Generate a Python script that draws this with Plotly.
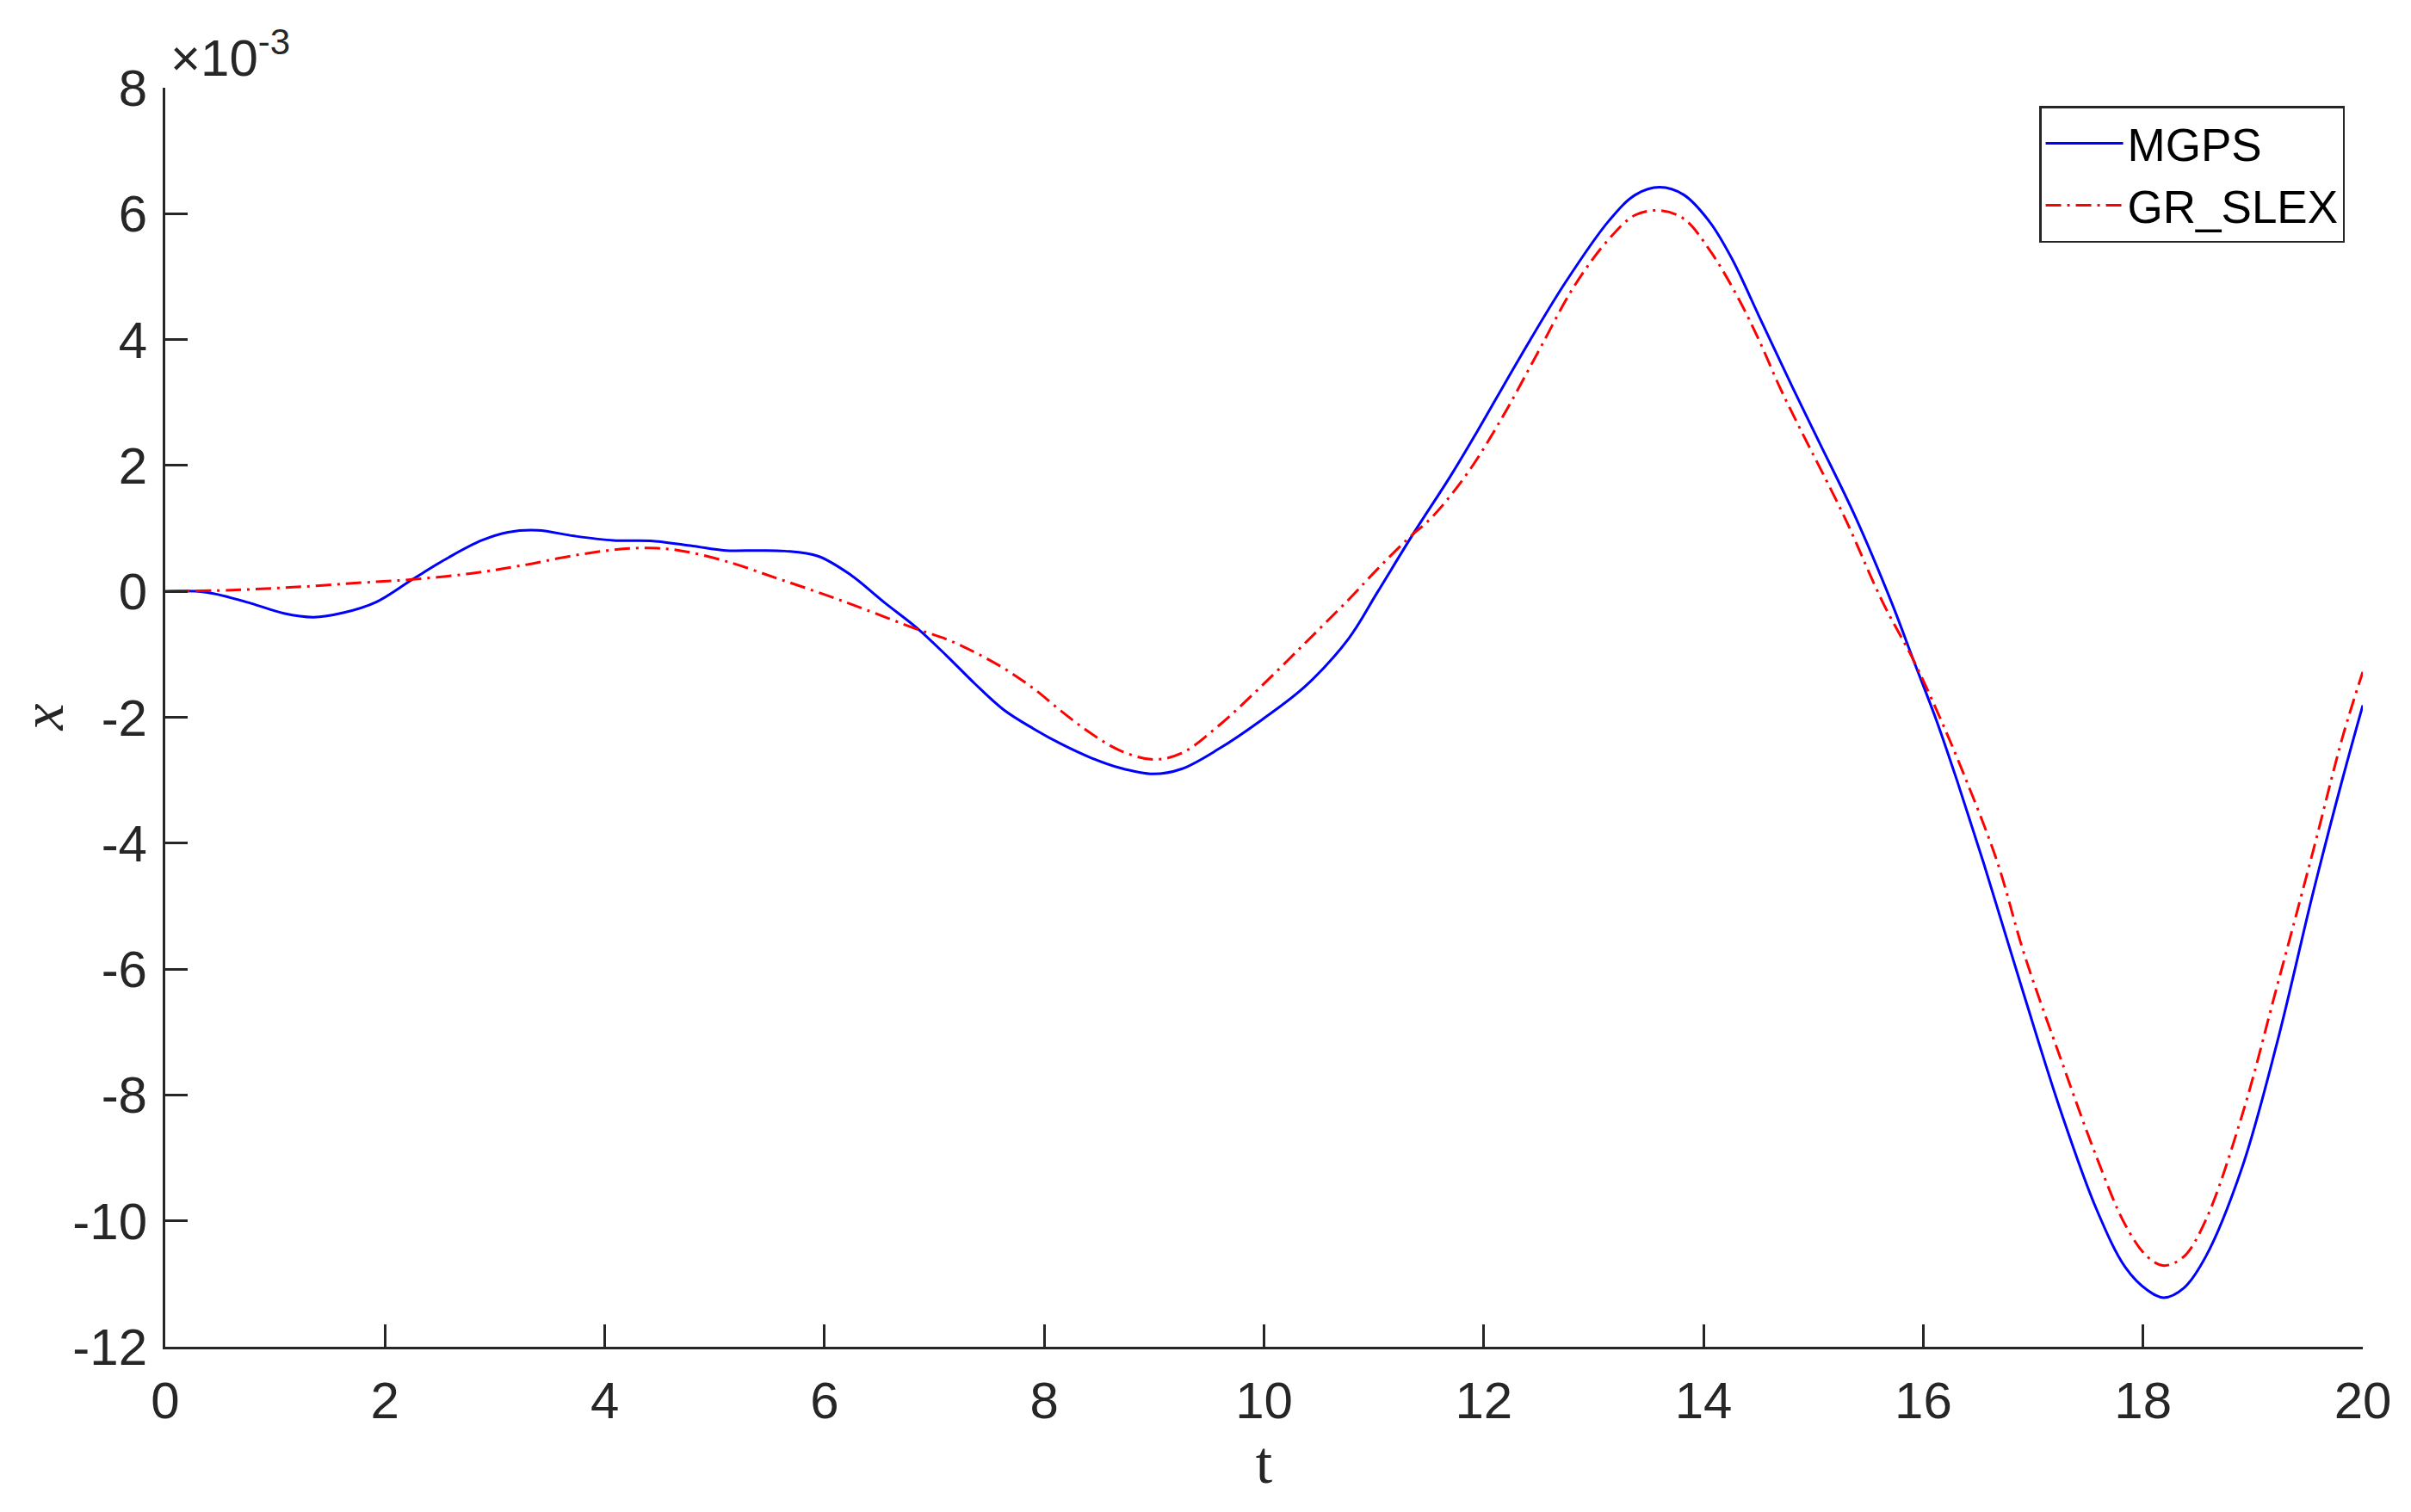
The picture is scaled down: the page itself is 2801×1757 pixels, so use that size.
import plotly.graph_objects as go

# values read in units of 1e-3
t_mgps = [0, 0.3, 0.48, 0.78, 1.08, 1.35, 1.62, 1.92, 2.25, 2.58, 2.88, 3.12, 3.39, 3.72,
          4.08, 4.44, 4.8, 5.1, 5.4, 5.64, 5.94, 6.24, 6.54, 6.84, 7.11, 7.37, 7.63, 7.90,
          8.16, 8.42, 8.68, 8.99, 9.25, 9.59, 9.98, 10.38, 10.77, 11.03, 11.36, 11.7, 11.94,
          12.34, 12.74, 13.14, 13.38, 13.6, 13.82, 14.06, 14.26, 14.5, 14.81, 15.05, 15.38,
          15.71, 15.91, 16.12, 16.31, 16.55, 16.92, 17.25, 17.58, 17.84, 18.04, 18.19, 18.37,
          18.57, 18.9, 19.22, 19.55, 19.82, 20.0]
x_mgps = [0, 0, -0.05, -0.19, -0.35, -0.41, -0.34, -0.17, 0.19, 0.54, 0.81, 0.94, 0.97, 0.88,
          0.81, 0.80, 0.72, 0.65, 0.65, 0.64, 0.56, 0.26, -0.17, -0.58, -1.02, -1.47, -1.88, -2.18,
          -2.43, -2.64, -2.80, -2.90, -2.82, -2.50, -2.04, -1.50, -0.75, -0.02, 0.92, 1.84, 2.54,
          3.75, 4.90, 5.89, 6.30, 6.42, 6.30, 5.86, 5.28, 4.39, 3.24, 2.38, 1.19,
          -0.17, -1.09, -2.05, -3.02, -4.32, -6.43, -8.25, -9.83, -10.74, -11.10, -11.22, -11.07,
          -10.57, -9.16, -7.17, -4.77, -2.95, -1.81]

t_slex = [0, 0.6, 1.2, 1.8, 2.25, 2.76, 3.24, 3.72, 4.08, 4.38, 4.68, 5.1, 5.58, 6.0, 6.36,
          6.84, 7.11, 7.37, 7.63, 7.90, 8.16, 8.42, 8.68, 8.99, 9.25, 9.59, 9.98, 10.38, 10.77,
          11.03, 11.3, 11.54, 11.86, 12.18, 12.5, 12.82, 13.14, 13.38, 13.6, 13.82, 14.06, 14.3,
          14.5, 14.7, 14.88, 15.28, 15.63, 15.91, 16.15, 16.37, 16.67, 16.92, 17.25, 17.58,
          17.84, 18.04, 18.19, 18.37, 18.57, 18.9, 19.22, 19.55, 19.82, 20.0]
x_slex = [0, 0.02, 0.07, 0.14, 0.19, 0.28, 0.41, 0.57, 0.66, 0.69, 0.65, 0.48, 0.20, -0.05, -0.28,
          -0.60, -0.76, -0.97, -1.22, -1.54, -1.91, -2.25, -2.52, -2.67, -2.57, -2.13, -1.50, -0.81, -0.13,
          0.35, 0.82, 1.20, 1.90, 2.80, 3.82, 4.84, 5.60, 5.98, 6.05, 5.92, 5.41, 4.71,
          4.01, 3.22, 2.58, 1.19, -0.17, -1.09, -2.00, -2.91, -4.28, -5.77, -7.42, -9.00,
          -10.07, -10.57, -10.71, -10.57, -9.99, -8.33, -6.27, -4.11, -2.29, -1.28]

x_ticks = list(range(0, 21, 2))
y_ticks = list(range(-12, 9, 2))
y_ticktext = [str(v) for v in y_ticks]  # plain hyphen minus, as in the original

ink = '#262626'
sans = 'Liberation Sans, Arial, sans-serif'
serif = 'Liberation Serif, DejaVu Serif, serif'

fig = go.Figure()
fig.add_trace(go.Scatter(x=t_mgps, y=x_mgps, mode='lines', name='MGPS',
                         line=dict(color='#0000FF', width=3, shape='spline', smoothing=1.0)))
fig.add_trace(go.Scatter(x=t_slex, y=x_slex, mode='lines', name='GR_SLEX',
                         line=dict(color='#FF0000', width=3, dash='18px,7px,3px,7px',
                                   shape='spline', smoothing=1.0)))

axis_common = dict(showline=True, linecolor=ink, linewidth=3, mirror=False,
                   ticks='inside', ticklen=26, tickwidth=2.5, tickcolor=ink,
                   showgrid=False, zeroline=False, automargin=False,
                   tickfont=dict(family=sans, size=60, color=ink))

fig.update_xaxes(range=[0, 20], tickvals=x_ticks, ticklabelstandoff=8,
                 title=dict(text='t', font=dict(family=serif, size=70, color=ink), standoff=10),
                 **axis_common)
fig.update_yaxes(range=[-12, 8], tickvals=y_ticks, ticktext=y_ticktext, ticklabelstandoff=6,
                 **axis_common)

# y label placed by hand, the axis title ignores standoff without automargin
fig.add_annotation(text='<i>x</i>', xref='paper', yref='paper', x=-0.056, y=0.5,
                   xanchor='center', yanchor='middle', textangle=-90, showarrow=False,
                   font=dict(family=serif, size=70, color=ink))

fig.add_annotation(text='×10<sup>-3</sup>', xref='paper', yref='paper', x=0, y=1,
                   xanchor='left', yanchor='bottom', yshift=-1, xshift=4, showarrow=False,
                   font=dict(family=sans, size=60, color=ink))

# the page body has an 8px margin, so the figure is sized to fit inside it
fig.update_layout(
    width=2785, height=1741,
    margin=dict(l=184, r=48, t=94, b=184),
    plot_bgcolor='white', paper_bgcolor='white',
    legend=dict(x=0.9918, y=0.9856, xanchor='right', yanchor='top',
                bordercolor=ink, borderwidth=2.5, bgcolor='white',
                font=dict(family=sans, size=53, color='black'),
                itemwidth=90, tracegroupgap=0),
)

fig.write_html("out.html")
